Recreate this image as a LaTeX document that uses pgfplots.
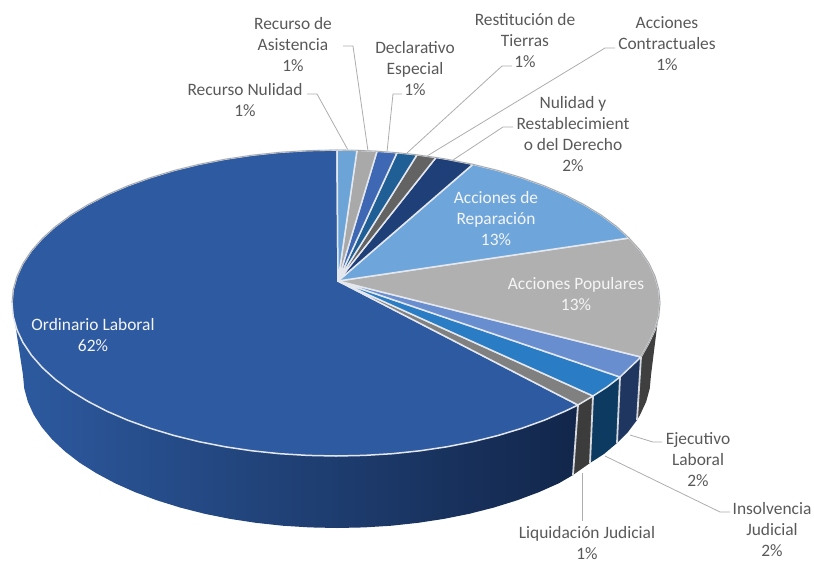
\documentclass[border=0pt]{standalone}
\usepackage{pgfplots}
\pgfplotsset{compat=1.18}
\usepackage{fontspec}
\setmainfont{Carlito}
\definecolor{txt}{HTML}{595959}
\definecolor{lead}{HTML}{ADADAD}
\definecolor{cOrd}{HTML}{2D5AA0}
\definecolor{cNul}{HTML}{6CA4D8}
\definecolor{cAsi}{HTML}{A9A9A9}
\definecolor{cDec}{HTML}{3E68B4}
\definecolor{cRes}{HTML}{1F5F96}
\definecolor{cCon}{HTML}{636363}
\definecolor{cNyr}{HTML}{1E3F78}
\definecolor{cRep}{HTML}{6EA6DC}
\definecolor{cPop}{HTML}{B0B0B0}
\definecolor{cEje}{HTML}{698ED0}
\definecolor{cIns}{HTML}{2A7DC4}
\definecolor{cLiq}{HTML}{808080}
\definecolor{sepw}{HTML}{E4E8EE}
\definecolor{sOrdM}{HTML}{1A3870}
\definecolor{sOrdR}{HTML}{12264A}
\definecolor{sLiq}{HTML}{3C3C3C}
\definecolor{sIns}{HTML}{0C3A60}
\definecolor{sEje}{HTML}{1E3660}
\definecolor{sPop}{HTML}{3F3F3F}
\tikzset{
  wedge/.style={draw=sepw,line width=1.5pt,line join=round},
  sidef/.style={draw=none},
  sep/.style={draw=sepw!85!gray,line width=1.8pt},
  ldr/.style={draw=lead,line width=0.8pt},
  lab/.style={font=\fontsize{17.4}{21}\selectfont,text=txt,align=center,inner sep=0pt},
  labw/.style={font=\fontsize{17.4}{21}\selectfont,text=white!92!gray,align=center,inner sep=0pt},
}
\begin{document}
\begin{tikzpicture}
\begin{axis}[hide axis,scale only axis,width=814pt,height=563pt,
  xmin=0,xmax=814,ymin=0,ymax=563,y dir=reverse,clip=false]
% keep the whole frame in the page
\path (axis cs:0,0) rectangle (axis cs:814,563);

% side faces
\addplot[sidef,left color=cOrd,middle color=sOrdM,right color=sOrdR] coordinates {
 (12,303)(13.2,316.3)(16.9,329.6)(23,342.6)(31.5,355.3)(42.4,367.7)(55.4,379.5)(70.6,390.8)(87.8,401.3)
 (106.9,411.2)(127.7,420.2)(150.2,428.3)(174,435.5)(199.1,441.7)(225.2,446.8)(252.1,450.8)(279.7,453.7)
 (307.8,455.4)(336,456)(364.2,455.4)(392.3,453.7)(419.9,450.8)(446.8,446.8)(472.9,441.7)(498,435.5)
 (521.8,428.3)(544.3,420.2)(565.1,411.2)(578,405)
 (573,475)(559,483.2)(538.8,492.2)(517.1,500.3)(494,507.5)(469.7,513.7)(444.4,518.8)(418.3,522.8)
 (391.5,525.7)(364.4,527.4)(337,528)(309.6,527.4)(282.5,525.7)(255.7,522.8)(229.6,518.8)(204.3,513.7)
 (180,507.5)(156.9,500.3)(135.2,492.2)(115,483.2)(96.5,473.3)(79.8,462.8)(65.1,451.5)(52.4,439.7)
 (41.9,427.3)(33.7,414.6)(27.8,401.6)(24.2,388.3)(23,375)} -- cycle;
\addplot[sidef,fill=sLiq] coordinates {(578,405)(593,396)(590,463)(573,475)} -- cycle;
\addplot[sidef,fill=sIns] coordinates {(593,396)(607,387)(620,377)(617,443)(604,454)(590,463)} -- cycle;
\addplot[sidef,fill=sEje] coordinates {(620,377)(631,366.5)(641,357)(637,420)(628,432)(617,443)} -- cycle;
\addplot[sidef,fill=sPop] coordinates {(641,357)(649,342.6)(655.1,329.6)(658.8,316.3)(660,303)
 (651,375)(649.8,388.3)(646.2,401.6)(640,415)(637,420)} -- cycle;
\addplot[sep] coordinates {(578,405)(573,475)};
\addplot[sep] coordinates {(593,396)(590,463)};
\addplot[sep] coordinates {(620,377)(617,443)};
\addplot[sep] coordinates {(641,357)(637,420)};

% leader lines
\addplot[ldr] coordinates {(307,94)(317,94)(348,150)};
\addplot[ldr] coordinates {(343,46)(353,46)(368,151)};
\addplot[ldr] coordinates {(402,94)(393,94)(387,152)};
\addplot[ldr] coordinates {(512,66)(502,66)(407,153)};
\addplot[ldr] coordinates {(615,48)(605,48)(427,156)};
\addplot[ldr] coordinates {(513,127)(503,127)(453,160)};
\addplot[ldr] coordinates {(662,442)(653,442)(630,435)};
\addplot[ldr] coordinates {(730,512)(720,512)(605,456)};
\addplot[ldr] coordinates {(582,473)(582,521)};

% top faces
\addplot[wedge,fill=cOrd] coordinates {(338,281)(337,150)(307.8,150.6)(279.7,152.3)(252.1,155.2)(225.2,159.2)
 (199.1,164.3)(174,170.5)(150.2,177.7)(127.7,185.8)(106.9,194.8)(87.8,204.7)(70.6,215.2)(55.4,226.5)
 (42.4,238.3)(31.5,250.7)(23,263.4)(16.9,276.4)(13.2,289.7)(12,303)
 (13.2,316.3)(16.9,329.6)(23,342.6)(31.5,355.3)(42.4,367.7)(55.4,379.5)(70.6,390.8)(87.8,401.3)
 (106.9,411.2)(127.7,420.2)(150.2,428.3)(174,435.5)(199.1,441.7)(225.2,446.8)(252.1,450.8)(279.7,453.7)
 (307.8,455.4)(336,456)(364.2,455.4)(392.3,453.7)(419.9,450.8)(446.8,446.8)(472.9,441.7)(498,435.5)
 (521.8,428.3)(544.3,420.2)(565.1,411.2)(578,405)} -- cycle;
\addplot[wedge,fill=cLiq] coordinates {(338,281)(578,405)(593,396)} -- cycle;
\addplot[wedge,fill=cIns] coordinates {(338,281)(593,396)(607,387)(620,377)} -- cycle;
\addplot[wedge,fill=cEje] coordinates {(338,281)(620,377)(631,366.5)(641,357)} -- cycle;
\addplot[wedge,fill=cPop] coordinates {(338,281)(641,357)(649,342.6)(655.1,329.6)(658.8,316.3)(660,303)
 (658.8,289.7)(655.1,276.4)(649,263.4)(640.5,250.7)(629,238)} -- cycle;
\addplot[wedge,fill=cRep] coordinates {(338,281)(629,238)(616.6,226.5)(601.4,215.2)(584.2,204.7)(565.1,194.8)
 (544.3,185.8)(521.8,177.7)(498,170.5)(472.9,164.3)} -- cycle;
\addplot[wedge,fill=cNyr] coordinates {(338,281)(472.9,164.3)(446.8,159.2)(436,157.5)} -- cycle;
\addplot[wedge,fill=cCon] coordinates {(338,281)(436,157.5)(417,154.8)} -- cycle;
\addplot[wedge,fill=cRes] coordinates {(338,281)(417,154.8)(397,152.7)} -- cycle;
\addplot[wedge,fill=cDec] coordinates {(338,281)(397,152.7)(377,151.2)} -- cycle;
\addplot[wedge,fill=cAsi] coordinates {(338,281)(377,151.2)(357,150.3)} -- cycle;
\addplot[wedge,fill=cNul] coordinates {(338,281)(357,150.3)(337,150)} -- cycle;

% grey rim on the far edge
\addplot[draw=gray!70,line width=0.8pt] coordinates {(12,303)(13.2,289.7)(16.9,276.4)(23,263.4)(31.5,250.7)
 (42.4,238.3)(55.4,226.5)(70.6,215.2)(87.8,204.7)(106.9,194.8)(127.7,185.8)(150.2,177.7)(174,170.5)
 (199.1,164.3)(225.2,159.2)(252.1,155.2)(279.7,152.3)(307.8,150.6)(336,150)(357,150.3)(377,151.2)(397,152.7)
 (417,154.8)(436,157.5)(446.8,159.2)(472.9,164.3)(498,170.5)(521.8,177.7)(544.3,185.8)(565.1,194.8)
 (584.2,204.7)(601.4,215.2)(616.6,226.5)(629,238)(640.5,250.7)(649,263.4)(655.1,276.4)(658.8,289.7)(660,303)
 (658.8,316.3)(655.1,329.6)(649,342.6)(641,357)};

% labels
\node[lab] at (axis cs:245,100) {Recurso Nulidad\\1\%};
\node[lab] at (axis cs:293,45) {Recurso de\\Asistencia\\1\%};
\node[lab] at (axis cs:415,69) {Declarativo\\Especial\\1\%};
\node[lab] at (axis cs:525,41) {Restitución de\\Tierras\\1\%};
\node[lab] at (axis cs:667,44) {Acciones\\Contractuales\\1\%};
\node[lab] at (axis cs:573,134.5) {Nulidad y\\Restablecimient\\o del Derecho\\2\%};
\node[labw] at (axis cs:496,219) {Acciones de\\Reparación\\13\%};
\node[labw] at (axis cs:576,294.5) {Acciones Populares\\13\%};
\node[labw] at (axis cs:93,335.5) {Ordinario Laboral\\62\%};
\node[lab] at (axis cs:698,460) {Ejecutivo\\Laboral\\2\%};
\node[lab] at (axis cs:772,530) {Insolvencia\\Judicial\\2\%};
\node[lab] at (axis cs:587,543.5) {Liquidación Judicial\\1\%};
\end{axis}
\end{tikzpicture}
\end{document}
